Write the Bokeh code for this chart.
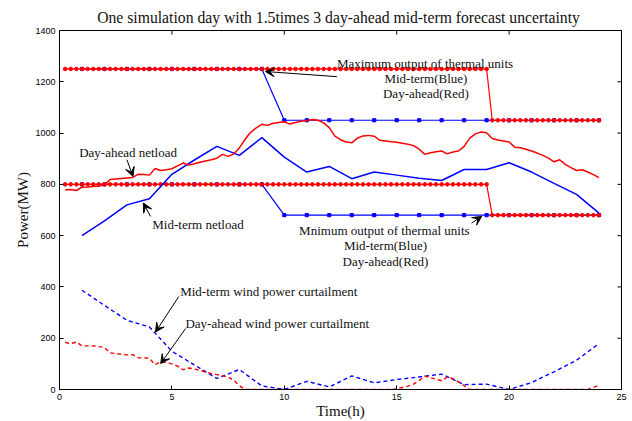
import math
from bokeh.plotting import figure
from bokeh.models import FixedTicker, Label, Arrow, VeeHead, Range1d
from bokeh.embed import file_html
from bokeh.resources import INLINE

# ---------------- data ----------------
hours = list(range(1, 25))
mid_netload = [600, 658, 720, 744, 839, 895, 948, 913, 982, 906, 848, 870,
               822, 848, 836, 824, 815, 858, 858, 884, 848, 804, 761, 688]
mid_curtail = [387, 328, 270, 244, 149, 96, 43, 78, 14, 0, 32, 10,
               53, 26, 39, 49, 60, 19, 21, 0, 27, 69, 114, 179]
mid_max = [1250] * 9 + [1050] * 15
mid_min = [800] * 9 + [680] * 15

da_times = [round(0.25 * k, 2) for k in range(1, 97)]
da_netload = [778, 780, 776, 789, 790, 792, 794, 797,
              819, 821, 823, 825, 827, 839, 838, 836,
              862, 854, 857, 861, 872, 883, 875, 880,
              886, 891, 896, 902, 917, 909, 918, 942,
              975, 1003, 1020, 1034, 1030, 1038, 1041, 1044,
              1035, 1041, 1046, 1049, 1053, 1050, 1040, 1021,
              988, 974, 965, 962, 980, 989, 991, 988,
              972, 969, 966, 964, 960, 956, 951, 937,
              917, 923, 927, 930, 919, 926, 930, 948,
              980, 997, 1004, 1001, 979, 973, 969, 965,
              945, 943, 937, 930, 922, 913, 902, 888,
              896, 878, 865, 854, 857, 848, 838, 826]
da_curtail = [184, 179, 185, 170, 170, 170, 167, 164,
              143, 140, 138, 135, 136, 124, 123, 122,
              97, 108, 105, 100, 91, 77, 84, 80,
              75, 68, 62, 58, 54, 48, 36, 15,
              0, 0, 0, 0, 0, 0, 0, 0,
              0, 0, 0, 0, 0, 0, 0, 0,
              0, 0, 0, 0, 0, 0, 0, 0,
              0, 0, 0, 2, 8, 13, 21, 35,
              52, 46, 40, 34, 49, 42, 30, 15,
              0, 0, 0, 0, 0, 0, 0, 0,
              0, 0, 0, 0, 0, 0, 0, 0,
              0, 0, 0, 0, 0, 0, 8, 17]
da_max = [1250] * 76 + [1050] * 20
da_min = [800] * 76 + [680] * 20

x_ticks = [0, 5, 10, 15, 20, 25]
y_ticks = [0, 200, 400, 600, 800, 1000, 1200, 1400]
X_MIN, X_MAX = 0, 25
Y_MIN, Y_MAX = 0, 1400

title_text = "One simulation day with 1.5times 3 day-ahead  mid-term forecast uncertainty"
x_label = "Time(h)"
y_label = "Power(MW)"

# annotations: (text, x, y)
texts = [
    ("Maximum output of thermal units", 16.26, 1272),
    ("Mid-term(Blue)", 16.3, 1214),
    ("Day-ahead(Red)", 16.3, 1155),
    ("Day-ahead netload", 3.05, 926),
    ("Mid-term netload", 6.16, 644),
    ("Mnimum output of thermal units", 14.45, 620),
    ("Mid-term(Blue)", 14.5, 562),
    ("Day-ahead(Red)", 14.5, 501),
    ("Mid-term wind power curtailment", 9.31, 384),
    ("Day-ahead wind power curtailment", 9.69, 259),
]
# arrows: (x_start, y_start, x_end, y_end)
arrows = [
    (12.34, 1220, 9.16, 1240),
    (3.0, 896, 3.27, 831),
    (4.05, 675, 3.73, 727),
    (18.33, 649, 18.78, 675),
    (5.31, 363, 4.27, 224),
    (5.61, 238, 4.5, 101),
]

RED = "#ff0000"
BLUE = "#0000ff"
SERIF = "Liberation Serif"
SANS = "Liberation Sans"

p = figure(width=632, height=421, output_backend="svg", toolbar_location=None,
           x_range=Range1d(X_MIN, X_MAX), y_range=Range1d(Y_MIN, Y_MAX),
           min_border_left=59, min_border_right=11, min_border_top=30, min_border_bottom=32)

p.title.text = title_text
p.title.text_font = SERIF
p.title.text_font_size = "15.7px"
p.title.text_font_style = "normal"
p.title.text_color = "#111111"
p.title.align = "center"
p.title.standoff = 9

p.xgrid.visible = False
p.ygrid.visible = False
p.outline_line_color = "black"
p.outline_line_width = 1
p.background_fill_color = "white"
p.border_fill_color = "white"

for ax in p.xaxis:
    ax.ticker = FixedTicker(ticks=x_ticks)
    ax.axis_label = x_label
    ax.axis_label_text_font = SERIF
    ax.axis_label_text_font_size = "15px"
    ax.axis_label_text_font_style = "normal"
    ax.axis_label_text_color = "#111111"
    ax.axis_label_standoff = 0
for ax in p.yaxis:
    ax.ticker = FixedTicker(ticks=y_ticks)
    ax.axis_label = y_label
    ax.axis_label_text_font = SERIF
    ax.axis_label_text_font_size = "15px"
    ax.axis_label_text_font_style = "normal"
    ax.axis_label_text_color = "#111111"
    ax.axis_label_standoff = 1

for ax in list(p.xaxis) + list(p.yaxis):
    ax.major_tick_in = 4
    ax.major_tick_out = 0
    ax.minor_tick_in = 0
    ax.minor_tick_out = 0
    ax.major_label_text_font = SANS
    ax.major_label_text_font_size = "9px"
    ax.major_label_text_color = "black"
    ax.major_label_standoff = 4
    ax.axis_line_color = "black"
    ax.major_tick_line_color = "black"

# inward ticks on the top and right frame edges (clipped to the frame -> 4px ticks)
p.scatter(x_ticks, [Y_MAX] * len(x_ticks), marker="dash", size=8, angle=math.pi / 2,
          line_color="black", line_width=1)
p.scatter([X_MAX] * len(y_ticks), y_ticks, marker="dash", size=8,
          line_color="black", line_width=1)

# thermal unit limits (mid-term blue, day-ahead red)
p.line(hours, mid_max, line_color=BLUE, line_width=1.2)
p.scatter(hours, mid_max, marker="square", size=3.2, color=BLUE)
p.line(hours, mid_min, line_color=BLUE, line_width=1.2)
p.scatter(hours, mid_min, marker="square", size=3.2, color=BLUE)

p.line(da_times, da_max, line_color=RED, line_width=1.2)
p.scatter(da_times, da_max, marker="circle", size=3.6, color=RED)
p.line(da_times, da_min, line_color=RED, line_width=1.2)
p.scatter(da_times, da_min, marker="circle", size=3.6, color=RED)

# netloads
p.line(hours, mid_netload, line_color=BLUE, line_width=1.5)
p.line(da_times, da_netload, line_color=RED, line_width=1.5)

# curtailments
p.line(hours, mid_curtail, line_color=BLUE, line_width=1.4, line_dash="4 3")
p.line(da_times, da_curtail, line_color=RED, line_width=1.4, line_dash="4 3")

for (t, x, y) in texts:
    p.add_layout(Label(x=x, y=y, text=t, text_font=SERIF, text_font_size="13px",
                       text_align="center", text_baseline="middle", text_color="#111111"))

for (xs, ys, xe, ye) in arrows:
    p.add_layout(Arrow(x_start=xs, y_start=ys, x_end=xe, y_end=ye, line_color="black",
                       line_width=1,
                       end=VeeHead(size=9, fill_color="black", line_color="black", line_width=1)))

open("out.html", "w").write(file_html(p, INLINE))
